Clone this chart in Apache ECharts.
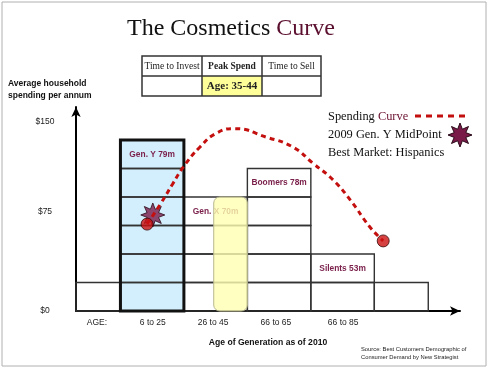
<!DOCTYPE html>
<html>
<head>
<meta charset="utf-8">
<script src="https://cdn.jsdelivr.net/npm/echarts@6/dist/echarts.min.js"></script>
<style>html,body{margin:0;padding:0;background:#fff;}#c{width:489px;height:369px;}</style>
</head>
<body>
<div id="c"></div>
<script>
// ---- data ----
const colEdges = [0, 0.7, 1.7, 2.7, 3.7, 4.7, 5.55];      // column boundaries (x units)
const colRows = [1, 6, 4, 5, 2, 1];                      // stacked rows per column
const genNames = ['Gen. Y 79m', 'Gen. X 70m', 'Boomers 78m', 'Silents 53m'];
const genCols = [1, 2, 3, 4];
const genLabelRows = [5, 3, 4, 1];
const genYCol = 1;
const peakBand = [2.17, 2.7, 0, 4];                      // highlighted ages band
const curveX = [1.12, 1.34, 1.52, 1.69, 1.95, 2.22, 2.5, 3.0, 3.42, 3.73, 4.05, 4.32, 4.63, 4.84];
const curveY = [3.05, 3.79, 4.45, 5.05, 5.75, 6.25, 6.40, 6.10, 5.75, 5.19, 4.6, 3.9, 2.95, 2.46];
const midPoint = [1.21, 3.37];
const xTickValues = [0.33, 1.21, 2.16, 3.15, 4.21];
const xTickLabels = ['AGE:', '6 to 25', '26 to 45', '66 to 65', '66 to 85'];
const yTickValues = [0, 3.5, 6.63];
const yTickLabels = ['$0', '$75', '$150'];
const tableHead = ['Time to Invest', 'Peak Spend', 'Time to Sell'];
const tableBody = ['', 'Age: 35-44', ''];
const legendItems = ['Spending Curve', '2009 Gen. Y MidPoint', 'Best Market: Hispanics'];

// ---- helpers ----
function starPoints(n, inner, cx, cy, R) {
  const pts = [];
  for (let i = 0; i < n * 2; i++) {
    const r = i % 2 === 0 ? R : R * inner;
    const a = Math.PI * i / n - Math.PI / 2;
    pts.push([cx + r * Math.cos(a), cy + r * Math.sin(a)]);
  }
  return pts;
}
const STAR = 'path://' + starPoints(8, 0.52, 50, 50, 50).map((p, i) => (i ? 'L' : 'M') + p[0].toFixed(2) + ' ' + p[1].toFixed(2)).join('') + 'Z';
const MAROON = '#7a1f4a';
const SERIF = '"Liberation Serif", "DejaVu Serif", serif';
const SANS = '"Liberation Sans", Arial, sans-serif';

const cells = [];
colRows.forEach((n, c) => { for (let r = 0; r < n; r++) cells.push([colEdges[c], colEdges[c + 1], r, r + 1]); });
const genYRect = [[colEdges[genYCol], colEdges[genYCol + 1], 0, colRows[genYCol]]];
const labelData = genNames.map((t, i) => [(colEdges[genCols[i]] + colEdges[genCols[i] + 1]) / 2, genLabelRows[i] + 0.5, t]);
const curveData = curveX.map((x, i) => [x, curveY[i]]);
const endDots = [curveData[0], curveData[curveData.length - 1]];

function rectItem(styleFn, r) {
  return function (params, api) {
    const p0 = api.coord([api.value(0), api.value(3)]);
    const p1 = api.coord([api.value(1), api.value(2)]);
    return { type: 'rect', shape: { x: p0[0], y: p0[1], width: p1[0] - p0[0], height: p1[1] - p0[1], r: r || 0 }, style: styleFn() };
  };
}

const chart = echarts.init(document.getElementById('c'), null, { renderer: 'canvas' });

// table graphics
const tX = [142, 202, 262, 321], tY = [56, 76, 96];
const tableG = [];
tableG.push({ type: 'rect', shape: { x: tX[1], y: tY[1], width: tX[2] - tX[1], height: tY[2] - tY[1] }, style: { fill: '#ffff9a' } });
for (let i = 0; i < 3; i++) {
  tableG.push({ type: 'text', style: { text: tableHead[i], x: (tX[i] + tX[i + 1]) / 2, y: (tY[0] + tY[1]) / 2 + 0.5, align: 'center', verticalAlign: 'middle', font: (i === 1 ? 'bold ' : '') + '9.5px ' + SERIF, fill: '#222' } });
  if (tableBody[i]) tableG.push({ type: 'text', style: { text: tableBody[i], x: (tX[i] + tX[i + 1]) / 2, y: (tY[1] + tY[2]) / 2 + 0.5, align: 'center', verticalAlign: 'middle', font: 'bold 11px ' + SERIF, fill: '#222' } });
}
tableG.push({ type: 'rect', shape: { x: tX[0], y: tY[0], width: tX[3] - tX[0], height: tY[2] - tY[0] }, style: { fill: 'none', stroke: '#333', lineWidth: 1.5 } });
tableG.push({ type: 'line', shape: { x1: tX[0], y1: tY[1], x2: tX[3], y2: tY[1] }, style: { stroke: '#333', lineWidth: 1.5 } });
[1, 2].forEach(i => tableG.push({ type: 'line', shape: { x1: tX[i], y1: tY[0], x2: tX[i], y2: tY[2] }, style: { stroke: '#333', lineWidth: 1.5 } }));

chart.setOption({
  animation: false,
  grid: { left: 76, right: 29, top: 107, bottom: 58, outerBoundsMode: 'none', containLabel: false },
  xAxis: {
    type: 'value', min: 0, max: 6.05,
    axisLine: { show: true, lineStyle: { color: '#000', width: 2 }, symbol: ['none', 'arrow'], symbolSize: [7, 10] },
    axisTick: { show: false }, splitLine: { show: false },
    axisLabel: { customValues: xTickValues, formatter: v => xTickLabels[xTickValues.indexOf(v)], margin: 7, color: '#222', fontFamily: SANS, fontSize: 8.5, showMinLabel: true, showMaxLabel: true },
    name: 'Age of Generation as of 2010', nameLocation: 'middle', nameGap: 27,
    nameTextStyle: { fontFamily: SANS, fontWeight: 'bold', fontSize: 8.6, color: '#111' }
  },
  yAxis: {
    type: 'value', min: 0, max: 7.16,
    axisLine: { show: true, lineStyle: { color: '#000', width: 2 }, symbol: ['none', 'arrow'], symbolSize: [7, 10] },
    axisTick: { show: false }, splitLine: { show: false },
    axisLabel: { customValues: yTickValues, formatter: v => yTickLabels[yTickValues.indexOf(v)], margin: 31, align: 'center', color: '#222', fontFamily: SANS, fontSize: 8.5, showMinLabel: true, showMaxLabel: true }
  },
  series: [
    { type: 'custom', z: 1, silent: true, data: genYRect, renderItem: rectItem(() => ({ fill: '#d3effd' })) },
    { type: 'custom', z: 2, silent: true, data: cells, renderItem: rectItem(() => ({ fill: 'none', stroke: '#333', lineWidth: 1.4 })) },
    { type: 'custom', z: 3, silent: true, data: labelData, renderItem: function (params, api) {
        const p = api.coord([api.value(0), api.value(1)]);
        return { type: 'text', style: { text: labelData[params.dataIndex][2], x: p[0], y: p[1], align: 'center', verticalAlign: 'middle', font: 'bold 8.4px ' + SANS, fill: MAROON } };
      } },
    { type: 'custom', z: 4, silent: true, data: [peakBand], renderItem: rectItem(() => ({ fill: 'rgba(255,255,178,0.8)', stroke: '#b8b890', lineWidth: 1 }), 6) },
    { type: 'custom', z: 5, silent: true, data: genYRect, renderItem: rectItem(() => ({ fill: 'none', stroke: '#111', lineWidth: 3 })) },
    { type: 'scatter', z: 6, silent: true, data: [midPoint], symbol: STAR, symbolSize: 24, itemStyle: { color: '#7a1a48', borderColor: '#2a0a18', borderWidth: 1 } },
    { type: 'line', z: 7, silent: true, data: curveData, smooth: 0.5, showSymbol: false, lineStyle: { color: '#c40f0f', width: 3, type: [5, 4] } },
    { type: 'scatter', z: 8, silent: true, data: endDots, symbol: 'circle', symbolSize: 12, itemStyle: { color: '#cc1111', borderColor: '#3a0a0a', borderWidth: 1 } }
  ],
  graphic: [
    { type: 'rect', silent: true, shape: { x: 2, y: 2, width: 484, height: 364 }, style: { fill: 'none', stroke: '#b0b0b0', lineWidth: 1 } },
    { type: 'text', silent: true, style: { x: 231, y: 29, align: 'center', verticalAlign: 'middle', text: '{a|The Cosmetics }{b|Curve}', rich: { a: { font: '24px ' + SERIF, fill: '#111' }, b: { font: '24px ' + SERIF, fill: '#5c1030' } } } },
    ...tableG,
    { type: 'text', silent: true, style: { x: 8, y: 78, text: 'Average household\nspending per annum', font: 'bold 8.5px ' + SANS, lineHeight: 12, fill: '#111' } },
    { type: 'text', silent: true, style: { x: 328, y: 117, verticalAlign: 'middle', text: '{a|Spending }{b|Curve}', rich: { a: { font: '12.4px ' + SERIF, fill: '#111' }, b: { font: '12.4px ' + SERIF, fill: '#6a1030' } } } },
    { type: 'line', silent: true, shape: { x1: 415, y1: 116, x2: 468, y2: 116 }, style: { stroke: '#c40f0f', lineWidth: 3, lineDash: [6, 5] } },
    { type: 'text', silent: true, style: { x: 328, y: 135, verticalAlign: 'middle', text: legendItems[1], font: '12.4px ' + SERIF, fill: '#111' } },
    { type: 'polygon', silent: true, shape: { points: starPoints(8, 0.52, 460, 135, 12) }, style: { fill: '#7a1a48', stroke: '#2a0a18', lineWidth: 1 } },
    { type: 'text', silent: true, style: { x: 328, y: 153, verticalAlign: 'middle', text: legendItems[2], font: '12.4px ' + SERIF, fill: '#111' } },
    { type: 'text', silent: true, style: { x: 361, y: 345, text: 'Source: Best Customers Demographic of\nConsumer Demand by New Strategist', font: '5.8px ' + SANS, lineHeight: 8, fill: '#222' } }
  ]
});
</script>
</body>
</html>
